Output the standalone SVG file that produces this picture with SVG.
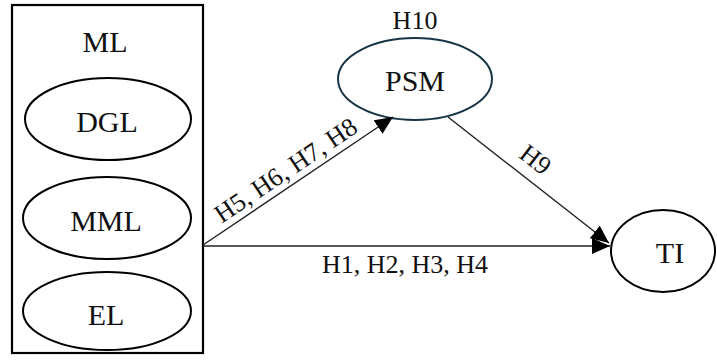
<svg xmlns="http://www.w3.org/2000/svg" width="717" height="362" viewBox="0 0 717 362">
  <style>
    .node { fill: #ffffff; stroke: #000000; stroke-width: 2; }
    .psm { stroke: #173545; }
    .big { font-family: "Liberation Serif", "Times New Roman", serif; font-size: 30px; fill: #111111; text-anchor: middle; }
    .lbl { font-family: "Liberation Serif", "Times New Roman", serif; font-size: 26px; fill: #111111; text-anchor: middle; }
    .edge { stroke: #222222; stroke-width: 1.4; fill: none; marker-end: url(#arrow); }
  </style>
  <defs>
    <marker id="arrow" viewBox="0 0 18 16" markerWidth="18" markerHeight="16" refX="18" refY="8" orient="auto" markerUnits="userSpaceOnUse">
      <path d="M0,0 L18,8 L0,16 z" fill="#000000"/>
    </marker>
  </defs>
  <rect width="717" height="362" fill="#ffffff"/>

  <g id="ML">
    <rect x="12" y="5" width="191" height="348" fill="#ffffff" stroke="#000000" stroke-width="2.2"/>
    <text class="big" x="105" y="52">ML</text>
  </g>
  <g id="DGL">
    <ellipse class="node" cx="108" cy="119" rx="83" ry="41"/>
    <text class="big" x="107" y="132">DGL</text>
  </g>
  <g id="MML">
    <ellipse class="node" cx="107" cy="218" rx="84" ry="41"/>
    <text class="big" x="106" y="231">MML</text>
  </g>
  <g id="EL">
    <ellipse class="node" cx="107" cy="311" rx="84" ry="39"/>
    <text class="big" x="106" y="325">EL</text>
  </g>
  <g id="PSM">
    <ellipse class="node psm" cx="415" cy="79" rx="77" ry="41"/>
    <text class="big" x="415" y="91">PSM</text>
    <text class="lbl" x="415" y="29">H10</text>
  </g>
  <g id="TI">
    <ellipse class="node" cx="663" cy="251" rx="52" ry="41"/>
    <text class="big" x="670" y="263">TI</text>
  </g>

  <g id="connectors">
    <line class="edge" x1="203" y1="245" x2="393" y2="117"/>
    <line class="edge" x1="203" y1="246" x2="610" y2="246"/>
    <line class="edge" x1="448" y1="117" x2="609" y2="243"/>
    <text class="lbl" transform="translate(295,184) rotate(-34)" x="0" y="-8">H5, H6, H7, H8</text>
    <text class="lbl" x="405" y="273">H1, H2, H3, H4</text>
    <text class="lbl" transform="translate(523,176) rotate(37.6)" x="0" y="-12">H9</text>
  </g>
</svg>
